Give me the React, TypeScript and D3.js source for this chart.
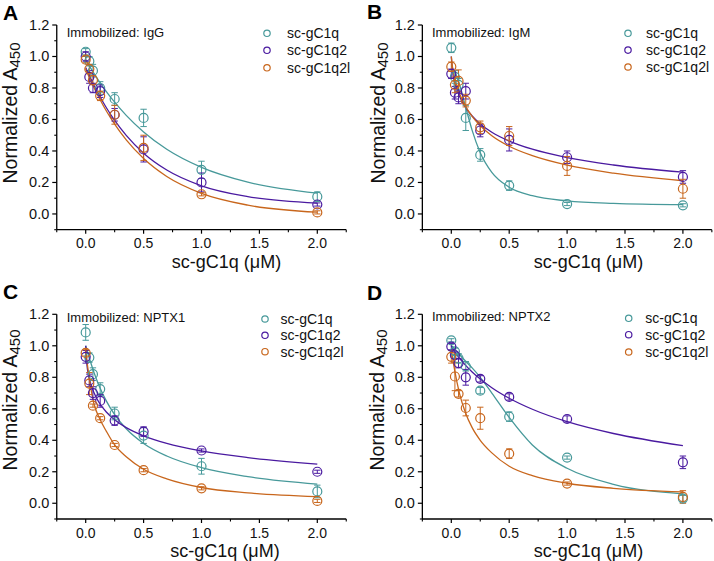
import React from "react";
import * as d3 from "d3";

// ---------- data ----------
const CONC = [0, 0.03125, 0.0625, 0.125, 0.25, 0.5, 1, 2];
const FIT_X = [0, 0.01, 0.03, 0.07, 0.12, 0.18, 0.25, 0.35, 0.5, 0.7, 1.0, 1.4, 2.0];
const SERIES_NAMES = ["sc-gC1q", "sc-gC1q2", "sc-gC1q2l"];
const Y_TICKS = [0, 0.2, 0.4, 0.6, 0.8, 1.0, 1.2];
const Y_MINOR = [-0.1, 0.1, 0.3, 0.5, 0.7, 0.9, 1.1];
const X_TICKS = [0, 0.5, 1.0, 1.5, 2.0];
const X_MINOR = [-0.25, 0.25, 0.75, 1.25, 1.75, 2.25];
const X_TITLE = "sc-gC1q (\u03bcM)";
const Y_TITLE_MAIN = "Normalized A";
const Y_TITLE_SUB = "450";

// Panel A: IgG
const igG_gC1q = [1.03, 0.97, 0.91, 0.8, 0.73, 0.61, 0.28, 0.11];
const igG_gC1q_sd = [0.02, 0.03, 0.04, 0.04, 0.04, 0.055, 0.055, 0.03];
const igG_gC1q_fit = [0.98, 0.967, 0.942, 0.894, 0.838, 0.776, 0.71, 0.626, 0.521, 0.411, 0.296, 0.202, 0.132];
const igG_gC1q2 = [1.0, 0.87, 0.8, 0.78, 0.63, 0.41, 0.2, 0.06];
const igG_gC1q2_sd = [0.03, 0.04, 0.03, 0.04, 0.04, 0.08, 0.06, 0.01];
const igG_gC1q2_fit = [0.93, 0.913, 0.881, 0.819, 0.749, 0.673, 0.594, 0.499, 0.386, 0.279, 0.179, 0.11, 0.069];
const igG_gC1q2l = [0.98, 0.92, 0.85, 0.75, 0.63, 0.42, 0.125, 0.01];
const igG_gC1q2l_sd = [0.02, 0.03, 0.03, 0.03, 0.06, 0.08, 0.01, 0.01];
const igG_gC1q2l_fit = [0.92, 0.903, 0.869, 0.805, 0.732, 0.652, 0.57, 0.47, 0.352, 0.238, 0.131, 0.056, 0.011];

// Panel B: IgM
const igM_gC1q = [1.055, 0.87, 0.82, 0.61, 0.375, 0.18, 0.063, 0.055];
const igM_gC1q_sd = [0.03, 0.04, 0.04, 0.08, 0.04, 0.03, 0.01, 0.01];
const igM_gC1q_fit = [0.92, 0.918, 0.901, 0.825, 0.69, 0.531, 0.389, 0.264, 0.17, 0.116, 0.083, 0.067, 0.059];
const igM_gC1q2 = [0.89, 0.77, 0.74, 0.78, 0.53, 0.47, 0.36, 0.235];
const igM_gC1q2_sd = [0.03, 0.04, 0.04, 0.05, 0.04, 0.07, 0.04, 0.04];
const igM_gC1q2_fit = [1.0, 0.91, 0.835, 0.749, 0.68, 0.622, 0.572, 0.519, 0.463, 0.411, 0.358, 0.311, 0.265];
const igM_gC1q2l = [0.935, 0.82, 0.845, 0.72, 0.55, 0.495, 0.305, 0.16];
const igM_gC1q2l_sd = [0.03, 0.05, 0.07, 0.04, 0.04, 0.06, 0.06, 0.06];
const igM_gC1q2l_fit = [1.0, 0.934, 0.862, 0.767, 0.688, 0.619, 0.56, 0.497, 0.43, 0.37, 0.31, 0.259, 0.211];

// Panel C: NPTX1
const nptx1_gC1q = [1.085, 0.925, 0.82, 0.725, 0.57, 0.43, 0.235, 0.075];
const nptx1_gC1q_sd = [0.05, 0.03, 0.04, 0.04, 0.04, 0.05, 0.05, 0.04];
const nptx1_gC1q_fit = [1.0, 0.976, 0.926, 0.834, 0.739, 0.647, 0.563, 0.473, 0.38, 0.3, 0.226, 0.169, 0.122];
const nptx1_gC1q2 = [0.93, 0.78, 0.7, 0.65, 0.525, 0.455, 0.335, 0.2];
const nptx1_gC1q2_sd = [0.04, 0.04, 0.04, 0.04, 0.03, 0.03, 0.01, 0.01];
const nptx1_gC1q2_fit = [1.0, 0.883, 0.797, 0.705, 0.635, 0.578, 0.53, 0.48, 0.428, 0.38, 0.332, 0.29, 0.248];
const nptx1_gC1q2l = [0.955, 0.76, 0.62, 0.54, 0.37, 0.21, 0.095, 0.015];
const nptx1_gC1q2l_sd = [0.02, 0.07, 0.01, 0.01, 0.01, 0.01, 0.01, 0.01];
const nptx1_gC1q2l_fit = [0.98, 0.91, 0.8, 0.635, 0.538, 0.455, 0.37, 0.295, 0.216, 0.155, 0.1, 0.066, 0.042];

// Panel D: NPTX2
const nptx2_gC1q = [1.035, 0.965, 0.92, 0.87, 0.715, 0.55, 0.29, 0.03];
const nptx2_gC1q_sd = [0.01, 0.02, 0.03, 0.03, 0.02, 0.03, 0.01, 0.02];
const nptx2_gC1q_fit = [1.0, 0.995, 0.98, 0.945, 0.905, 0.86, 0.8, 0.7, 0.545, 0.37, 0.222, 0.12, 0.06];
const nptx2_gC1q2 = [0.995, 0.94, 0.89, 0.8, 0.79, 0.675, 0.535, 0.26];
const nptx2_gC1q2_sd = [0.02, 0.02, 0.03, 0.05, 0.02, 0.02, 0.02, 0.04];
const nptx2_gC1q2_fit = [1.0, 0.985, 0.962, 0.922, 0.879, 0.834, 0.789, 0.734, 0.667, 0.597, 0.518, 0.443, 0.366];
const nptx2_gC1q2l = [0.93, 0.805, 0.695, 0.605, 0.54, 0.315, 0.125, 0.04];
const nptx2_gC1q2l_sd = [0.04, 0.09, 0.02, 0.05, 0.07, 0.03, 0.01, 0.04];
const nptx2_gC1q2l_fit = [0.98, 0.93, 0.84, 0.7, 0.58, 0.48, 0.4, 0.32, 0.235, 0.175, 0.127, 0.095, 0.072];

const PANELS = [
  { letter: "A", title: "Immobilized: IgG", values: [igG_gC1q, igG_gC1q2, igG_gC1q2l], errors: [igG_gC1q_sd, igG_gC1q2_sd, igG_gC1q2l_sd], fits: [igG_gC1q_fit, igG_gC1q2_fit, igG_gC1q2l_fit] },
  { letter: "B", title: "Immobilized: IgM", values: [igM_gC1q, igM_gC1q2, igM_gC1q2l], errors: [igM_gC1q_sd, igM_gC1q2_sd, igM_gC1q2l_sd], fits: [igM_gC1q_fit, igM_gC1q2_fit, igM_gC1q2l_fit] },
  { letter: "C", title: "Immobilized: NPTX1", values: [nptx1_gC1q, nptx1_gC1q2, nptx1_gC1q2l], errors: [nptx1_gC1q_sd, nptx1_gC1q2_sd, nptx1_gC1q2l_sd], fits: [nptx1_gC1q_fit, nptx1_gC1q2_fit, nptx1_gC1q2l_fit] },
  { letter: "D", title: "Immobilized: NPTX2", values: [nptx2_gC1q, nptx2_gC1q2, nptx2_gC1q2l], errors: [nptx2_gC1q_sd, nptx2_gC1q2_sd, nptx2_gC1q2l_sd], fits: [nptx2_gC1q_fit, nptx2_gC1q2_fit, nptx2_gC1q2l_fit] },
];

// ---------- styles / layout ----------
const COLORS = ["#47999a", "#4a1aa0", "#c8661c"];
const FONT = "Arial, 'Liberation Sans', Helvetica, sans-serif";

const LAYOUT = [
  { dx: 0, dy: 0, letterX: 3, letterY: 20, titleX: 66.7, titleY: 36.6, legX: 267, legTextX: 287, legY: [33.3, 50.3, 67.8], yTitleX: 16.5, yTitleY: 113, xTitleX: 226.5 },
  { dx: 365.6, dy: 0, letterX: 367, letterY: 19, titleX: 432, titleY: 37, legX: 628, legTextX: 646, legY: [33.3, 50.1, 67], yTitleX: 385, yTitleY: 113, xTitleX: 588.5 },
  { dx: 0, dy: 289.3, letterX: 3, letterY: 299, titleX: 66.7, titleY: 321.5, legX: 265, legTextX: 280.5, legY: [319, 335.3, 351.7], yTitleX: 16.5, yTitleY: 400, xTitleX: 225 },
  { dx: 365.6, dy: 289.3, letterX: 367, letterY: 300, titleX: 432, titleY: 320.7, legX: 628.7, legTextX: 645.3, legY: [318.3, 334.7, 352], yTitleX: 383.5, yTitleY: 400, xTitleX: 588.5 },
];

const BASE_X_RANGE = [56.75, 346.25];
const BASE_Y_RANGE = [229.7, 25];

function Panel({ panel, lay }: { panel: any; lay: any }) {
  const x = d3.scaleLinear().domain([-0.25, 2.25]).range([BASE_X_RANGE[0] + lay.dx, BASE_X_RANGE[1] + lay.dx]);
  const y = d3.scaleLinear().domain([-0.1, 1.2]).range([BASE_Y_RANGE[0] + lay.dy, BASE_Y_RANGE[1] + lay.dy]);
  const fmt = d3.format(".1f");
  const line = d3
    .line<[number, number]>()
    .x((d) => x(d[0]))
    .y((d) => y(d[1]))
    .curve(d3.curveMonotoneX);
  const x0 = x(-0.25);
  const yb = y(-0.1);
  const capW = 3.2;

  return (
    <g>
      {/* fits */}
      {panel.fits.map((f: number[], i: number) => (
        <path key={"f" + i} d={line(FIT_X.map((xx, j) => [xx, f[j]]) as [number, number][]) || ""} fill="none" stroke={COLORS[i]} strokeWidth={1.3} />
      ))}
      {/* error bars */}
      {panel.values.map((vals: number[], i: number) =>
        vals.map((v, j) => {
          const e = panel.errors[i][j];
          const cx = x(CONC[j]);
          const y1 = y(v - e);
          const y2 = y(v + e);
          return (
            <g key={"e" + i + "-" + j} stroke={COLORS[i]} strokeWidth={1}>
              <line x1={cx} x2={cx} y1={y1} y2={y2} />
              <line x1={cx - capW} x2={cx + capW} y1={y1} y2={y1} />
              <line x1={cx - capW} x2={cx + capW} y1={y2} y2={y2} />
            </g>
          );
        })
      )}
      {/* markers */}
      {panel.values.map((vals: number[], i: number) =>
        vals.map((v, j) => (
          <circle key={"c" + i + "-" + j} cx={x(CONC[j])} cy={y(v)} r={4.5} fill="none" stroke={COLORS[i]} strokeWidth={1.2} />
        ))
      )}
      {/* axes */}
      <line x1={x0} x2={x0} y1={y(1.2)} y2={yb} stroke="#000" strokeWidth={1.3} />
      <line x1={x0} x2={x(2.25)} y1={yb} y2={yb} stroke="#000" strokeWidth={1.3} />
      {Y_TICKS.map((t) => (
        <g key={"yt" + t}>
          <line x1={x0 - 4.5} x2={x0} y1={y(t)} y2={y(t)} stroke="#000" strokeWidth={1.2} />
          <text x={x0 - 7.5} y={y(t) + 5} textAnchor="end" fontSize={14.5} fontFamily={FONT} fill="#111">
            {fmt(t)}
          </text>
        </g>
      ))}
      {Y_MINOR.map((t) => (
        <line key={"ym" + t} x1={x0 - 2.5} x2={x0} y1={y(t)} y2={y(t)} stroke="#000" strokeWidth={1.1} />
      ))}
      {X_TICKS.map((t) => (
        <g key={"xt" + t}>
          <line x1={x(t)} x2={x(t)} y1={yb} y2={yb + 4} stroke="#000" strokeWidth={1.2} />
          <text x={x(t)} y={yb + 18.7} textAnchor="middle" fontSize={14} fontFamily={FONT} fill="#111">
            {fmt(t)}
          </text>
        </g>
      ))}
      {X_MINOR.map((t) => (
        <line key={"xm" + t} x1={x(t)} x2={x(t)} y1={yb} y2={yb + 2.5} stroke="#000" strokeWidth={1.1} />
      ))}
      {/* titles */}
      <text x={lay.xTitleX} y={yb + 38} textAnchor="middle" fontSize={18} fontFamily={FONT} fill="#111">
        {X_TITLE}
      </text>
      <text transform={`translate(${lay.yTitleX},${lay.yTitleY}) rotate(-90)`} textAnchor="middle" fontSize={19.5} fontFamily={FONT} fill="#111">
        {Y_TITLE_MAIN}
        <tspan fontSize={15} dy={3}>{Y_TITLE_SUB}</tspan>
      </text>
      <text x={lay.letterX} y={lay.letterY} fontSize={21} fontWeight="bold" fontFamily={FONT} fill="#000">
        {panel.letter}
      </text>
      <text x={lay.titleX} y={lay.titleY} fontSize={13} fontFamily={FONT} fill="#111">
        {panel.title}
      </text>
      {/* legend */}
      {SERIES_NAMES.map((n, i) => (
        <g key={"l" + i}>
          <circle cx={lay.legX} cy={lay.legY[i]} r={3.2} fill="none" stroke={COLORS[i]} strokeWidth={1.2} />
          <text x={lay.legTextX} y={lay.legY[i] + 5} fontSize={14} fontFamily={FONT} fill="#111">
            {n}
          </text>
        </g>
      ))}
    </g>
  );
}

export default function App() {
  return (
    <svg width={714} height={561} style={{ position: "absolute", left: 0, top: 0, background: "#fff" }}>
      <rect x={0} y={0} width={714} height={561} fill="#fff" />
      {PANELS.map((p, i) => (
        <Panel key={p.letter} panel={p} lay={LAYOUT[i]} />
      ))}
    </svg>
  );
}
